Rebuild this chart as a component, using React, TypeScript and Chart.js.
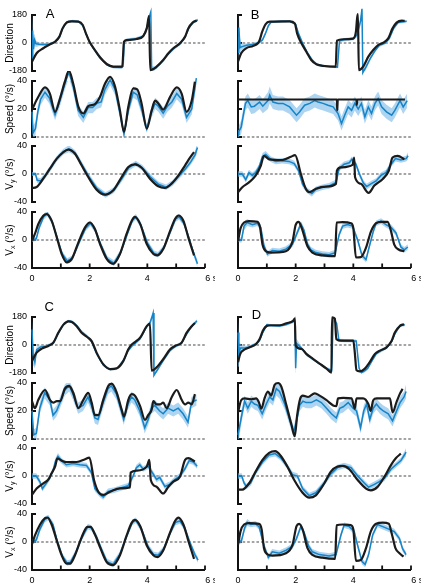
import React, { useEffect, useRef } from 'react';
import { Chart, registerables } from 'chart.js';

Chart.register(...registerables);

const FONT = '"Liberation Sans", Arial, Helvetica, sans-serif';
const BLACK = '#1b1b1b';
const BLUE = '#1684c6';
const BAND = 'rgba(118, 184, 232, 0.6)';

// axes / ticks
const TIME_TICKS = [0, 1, 2, 3, 4, 5, 6];
const TIME_LABELS = ['0', '', '2', '', '4', '', '     6 s'];
const DIR_TICKS = [-180, 0, 180];
const SPEED_TICKS = [0, 20, 40];
const VEL_TICKS = [-40, 0, 40];

// ---------- Panel A ----------  model: [t, value]; data: [t, mean, spread]
const A_DIR_MODEL = [[0,-120],[0.16,-66],[0.39,-34],[0.62,-9],[0.8,8],[0.95,41],[1.06,94],[1.2,131],[1.38,139],[1.61,137],[1.76,116],[1.87,62],[1.99,9],[2.18,-45],[2.36,-92],[2.59,-135],[2.82,-152],[3.13,-152],[3.19,8],[3.28,19],[3.63,26],[3.86,45],[3.98,94],[4.06,174],[4.1,-174],[4.32,-152],[4.55,-109],[4.73,-66],[4.9,-34],[5.13,-2],[5.31,41],[5.42,94],[5.57,131],[5.71,144]];
const A_DIR_DATA = [[0,-100,60],[0.02,80,110],[0.05,-40,80],[0.09,20,40],[0.14,-5,20],[0.25,-8,12],[0.4,-10,10],[0.6,-8,10],[0.8,6,10],[0.95,38,10],[1.06,92,10],[1.2,134,8],[1.4,142,8],[1.6,138,8],[1.76,114,8],[1.87,60,10],[2.0,5,10],[2.18,-48,10],[2.36,-96,10],[2.6,-140,8],[2.82,-156,8],[3.1,-158,8],[3.16,-150,10],[3.2,10,12],[3.3,20,10],[3.6,27,10],[3.85,42,10],[3.98,95,15],[4.06,165,20],[4.12,200,25],[4.15,-170,20],[4.3,-160,10],[4.55,-112,10],[4.73,-70,10],[4.9,-38,10],[5.13,-6,10],[5.31,38,10],[5.45,100,10],[5.6,135,10],[5.75,148,10]];
const A_SPD_MODEL = [[0,19.6],[0.22,28.7],[0.45,35.4],[0.62,31],[0.8,18],[0.97,27.5],[1.14,39.5],[1.28,47.4],[1.43,38],[1.61,21.6],[1.78,16.8],[1.95,22],[2.18,23.5],[2.36,28.7],[2.53,38],[2.71,43],[2.88,36],[3.05,19],[3.19,3.6],[3.34,21.6],[3.51,34.7],[3.65,34],[3.8,24],[3.98,6],[4.15,19],[4.27,26],[4.38,24],[4.55,19.6],[4.79,28.7],[5.02,35.4],[5.19,31],[5.36,18],[5.54,26],[5.65,39.5]];
const A_SPD_DATA = [[0,18,4],[0.04,3,5],[0.12,6,5],[0.2,18,4],[0.3,27,4],[0.45,32,4],[0.6,28,4],[0.8,16,4],[0.97,26,4],[1.14,38,4],[1.28,46,4],[1.43,36,4],[1.6,19,4],[1.78,14,4],[1.95,21,4],[2.1,21,4],[2.25,24,4],[2.4,25,4],[2.53,34,4],[2.71,41,4],[2.88,34,4],[3.05,17,4],[3.19,2,3],[3.34,19,4],[3.51,32,4],[3.65,30,4],[3.8,20,4],[3.98,6,3],[4.15,18,4],[4.27,24,4],[4.38,22,4],[4.55,17,4],[4.7,22,4],[4.85,25,4],[5.02,31,4],[5.19,27,4],[5.36,14,4],[5.54,20,4],[5.7,42,6]];
const A_VY_MODEL = [[0,-20],[0.16,-18.6],[0.39,-6.7],[0.62,7.6],[0.86,21.9],[1.09,31.4],[1.26,34.8],[1.49,29],[1.72,12.4],[1.95,-4.3],[2.24,-22.4],[2.53,-29.5],[2.82,-23.3],[3.11,-4.3],[3.34,10],[3.57,13.8],[3.8,9],[4.09,-6.7],[4.38,-17.6],[4.61,-20],[4.84,-13.8],[5.08,-1.9],[5.31,12.4],[5.48,23.3],[5.62,31.4]];
const A_VY_DATA = [[0,0,3],[0.12,0,3],[0.18,-9,4],[0.3,-10,4],[0.45,-3,4],[0.62,7,4],[0.86,22,4],[1.09,32,4],[1.28,36,5],[1.5,30,4],[1.75,12,4],[1.98,-4,4],[2.26,-21,4],[2.55,-30,4],[2.84,-23,4],[3.13,-6,4],[3.36,9,4],[3.6,15,4],[3.83,9,4],[4.1,-4,4],[4.4,-15,4],[4.65,-19,4],[4.87,-13,4],[5.1,-3,4],[5.33,8,4],[5.5,17,4],[5.65,27,5],[5.74,38,8]];
const A_VX_MODEL = [[0,-1],[0.1,8.6],[0.22,22.8],[0.39,34.8],[0.51,37],[0.68,27.6],[0.86,3.8],[1.03,-20],[1.2,-32],[1.38,-27],[1.61,-3.3],[1.84,18],[2.01,25],[2.18,15.7],[2.36,-5.7],[2.59,-27],[2.82,-34],[3.05,-20],[3.28,8.6],[3.46,27.6],[3.57,33],[3.75,23],[3.98,-5.7],[4.21,-20],[4.35,-22],[4.55,-13],[4.79,13],[4.96,30],[5.08,35],[5.25,27.6],[5.42,3.8],[5.62,-22]];
const A_VX_DATA = [[0,0,3],[0.15,2,3],[0.25,18,4],[0.4,33,4],[0.53,38,4],[0.7,26,4],[0.88,2,4],[1.05,-20,4],[1.22,-30,4],[1.4,-26,4],[1.63,-4,4],[1.86,17,4],[2.03,24,4],[2.2,14,4],[2.38,-6,4],[2.61,-27,4],[2.84,-33,4],[3.07,-18,4],[3.3,8,4],[3.48,28,4],[3.6,33,4],[3.77,22,4],[4.0,-4,4],[4.23,-19,4],[4.37,-21,4],[4.57,-11,4],[4.81,13,4],[4.98,30,4],[5.1,33,4],[5.27,24,4],[5.45,2,4],[5.6,-18,4],[5.74,-34,5]];

// ---------- Panel B ----------
const B_DIR_MODEL = [[0,-120],[0.11,-66],[0.28,-34],[0.52,-19],[0.69,-2],[0.75,19],[0.84,73],[0.96,122],[1.1,137],[1.79,139],[1.97,126],[2.05,62],[2.2,-2],[2.37,-56],[2.54,-109],[2.72,-137],[3.01,-148],[3.39,-152],[3.43,15],[3.65,24],[3.99,28],[4.09,73],[4.13,159],[4.16,185],[4.19,-174],[4.34,-152],[4.52,-88],[4.69,-45],[4.86,-13],[5.04,2],[5.21,30],[5.36,94],[5.5,131],[5.68,144],[5.78,142]];
const B_DIR_DATA = [[0,-60,100],[0.03,100,100],[0.07,-30,60],[0.12,-25,20],[0.3,-15,12],[0.5,-10,12],[0.7,0,10],[0.85,20,10],[0.95,60,10],[1.05,110,10],[1.15,135,8],[1.5,140,8],[1.8,140,8],[2.0,120,8],[2.1,60,10],[2.25,-5,10],[2.4,-60,10],[2.58,-112,10],[2.75,-140,8],[3.0,-150,8],[3.45,-155,8],[3.52,15,10],[3.7,22,10],[4.0,28,10],[4.12,50,15],[4.25,140,30],[4.3,220,40],[4.33,-190,30],[4.45,-150,15],[4.6,-95,12],[4.75,-50,10],[4.9,-15,10],[5.1,0,10],[5.25,30,10],[5.4,95,10],[5.55,132,8],[5.85,140,8]];
const B_SPD_MODEL = [[0,26.8],[3.43,26.8],[3.44,19],[3.46,26.8],[4.11,26.8],[4.12,23],[4.14,26.8],[5.79,26.8]];
const B_SPD_DATA = [[0,2,3],[0.03,4,4],[0.11,7,5],[0.17,14,5],[0.26,24,5],[0.34,26,5],[0.46,21.5,5],[0.57,22,5],[0.75,25,5],[0.86,22,5],[1.04,26,6],[1.1,30,6],[1.21,25,5],[1.39,24,5],[1.56,24,5],[1.79,21.5,5],[2.03,15.6,5],[2.14,18,5],[2.31,22.7,5],[2.49,24,5],[2.66,26,5],[2.78,25,5],[2.95,24,5],[3.12,22.7,5],[3.3,21.5,5],[3.47,16.8,5],[3.59,9.6,5],[3.7,15.6,5],[3.82,21.5,5],[3.94,19,5],[4.05,24,5],[4.17,20,5],[4.28,24,5],[4.4,14.4,5],[4.52,21.5,5],[4.63,16.8,5],[4.75,24,5],[4.86,27.5,5],[4.98,21.5,5],[5.15,18,5],[5.33,15.6,5],[5.44,19,5],[5.62,26,5],[5.73,21.5,5],[5.87,26,5]];
const B_VY_MODEL = [[0,-26],[0.15,-19],[0.38,-12],[0.61,-2.4],[0.79,11.8],[0.9,26],[1.08,21],[1.54,20],[1.83,24.5],[1.98,27],[2.18,0],[2.35,-21],[2.47,-26],[2.7,-21],[3.05,-18],[3.4,-14],[3.43,4.7],[3.57,9.4],[3.97,13],[4.03,23.5],[4.06,-4.7],[4.26,-14],[4.53,-27],[4.73,-16.5],[5.02,-7],[5.23,4.7],[5.36,23.5],[5.54,26],[5.77,21]];
const B_VY_DATA = [[0,0,4],[0.15,0,4],[0.27,-8,4],[0.38,2,4],[0.5,-2,4],[0.61,2,4],[0.73,10,4],[0.85,25,5],[0.96,28,5],[1.14,21,4],[1.31,18,4],[1.54,19,4],[1.77,18,4],[1.95,15,4],[2.1,5,4],[2.24,-15,4],[2.41,-24,4],[2.56,-28,4],[2.7,-22,4],[2.93,-19,4],[3.16,-17,4],[3.4,-12,4],[3.51,8,4],[3.68,14,4],[3.86,16,4],[3.95,21,4],[4.09,14,4],[4.21,0,4],[4.35,-13,4],[4.46,-18,4],[4.61,-14,4],[4.79,-10,4],[4.96,-2,4],[5.13,2,4],[5.31,14,4],[5.46,22,4],[5.65,20,4],[5.83,22,4],[5.9,26,5]];
const B_VX_MODEL = [[0,-2],[0.09,17],[0.21,25],[0.38,27],[0.67,26],[0.76,19],[0.85,-6.6],[0.96,-16],[1.14,-18],[1.66,-16],[1.89,-2],[2.0,21.6],[2.1,26],[2.21,17],[2.41,-9],[2.58,-18],[2.93,-22],[3.37,-23],[3.42,25],[3.63,25.4],[3.92,24],[4.0,17],[4.09,-25],[4.26,-24.5],[4.44,-11],[4.61,12],[4.79,24],[4.96,26],[5.19,26],[5.31,12],[5.42,-6.6],[5.57,-13.6],[5.77,-16]];
const B_VX_DATA = [[0,0,3],[0.12,0,4],[0.21,20,6],[0.32,25,5],[0.5,22,4],[0.67,24,4],[0.79,18,4],[0.9,-8,4],[1.02,-20,4],[1.19,-15,4],[1.43,-16,4],[1.66,-13,4],[1.89,-6,4],[2.03,8,4],[2.18,23,4],[2.29,14,4],[2.41,-6,4],[2.53,-14,4],[2.7,-18,4],[2.93,-20,4],[3.16,-21,4],[3.37,-18,4],[3.51,8,4],[3.63,20,4],[3.8,22,4],[3.97,20,4],[4.15,0,4],[4.3,-22,4],[4.44,-28,4],[4.55,-10,4],[4.69,12,4],[4.79,24,4],[4.96,27,4],[5.13,22,4],[5.31,18,4],[5.48,10,4],[5.65,-10,4],[5.77,-14,4],[5.89,-10,4]];

// ---------- Panel C ----------
const C_DIR_MODEL = [[0,-102],[0.16,-49],[0.34,-23],[0.57,-6],[0.74,15],[0.91,78],[1.09,131],[1.26,152],[1.38,148],[1.55,121],[1.72,78],[1.9,53],[2.07,25],[2.24,-49],[2.47,-123],[2.71,-155],[2.94,-150],[3.17,-102],[3.34,-28],[3.46,4],[3.57,19],[3.75,47],[3.98,121],[4.09,138],[4.15,-165],[4.32,-144],[4.55,-91],[4.79,-28],[4.96,-6],[5.19,15],[5.36,78],[5.54,121],[5.65,142]];
const C_DIR_DATA = [[0,100,60],[0.04,-60,70],[0.1,-110,40],[0.16,-30,20],[0.3,-12,10],[0.5,-8,10],[0.74,12,10],[0.91,75,10],[1.09,130,8],[1.26,155,8],[1.4,150,8],[1.55,125,8],[1.72,85,10],[1.9,58,10],[2.07,20,10],[2.24,-55,10],[2.47,-128,8],[2.71,-158,8],[2.94,-152,8],[3.17,-100,10],[3.34,-35,10],[3.46,-8,10],[3.6,15,10],[3.75,40,10],[3.98,120,10],[4.1,145,15],[4.2,205,25],[4.23,-195,25],[4.35,-160,12],[4.55,-100,10],[4.79,-35,10],[4.96,-10,10],[5.19,12,10],[5.36,70,10],[5.54,120,10],[5.72,155,10]];
const C_SPD_MODEL = [[0,27],[0.1,22],[0.22,28],[0.45,35],[0.62,28],[0.74,26],[0.86,27],[0.97,27],[1.14,36],[1.29,38],[1.43,33],[1.61,22],[1.78,28],[1.95,33],[2.07,26],[2.18,17],[2.3,17],[2.47,28],[2.65,38],[2.76,39.5],[2.94,33],[3.11,21],[3.19,16],[3.34,28],[3.46,32],[3.57,31],[3.75,23.5],[3.92,13.6],[4.03,17],[4.15,21],[4.21,27],[4.32,24.7],[4.44,24.7],[4.55,26],[4.67,22],[4.84,29.6],[5.02,35],[5.19,28],[5.31,24.7],[5.42,26],[5.54,24.7],[5.65,32]];
const C_SPD_DATA = [[0,20,4],[0.06,3,4],[0.15,4,4],[0.27,22,4],[0.44,33,4],[0.62,28,4],[0.73,17,4],[0.85,20,4],[0.97,26,4],[1.14,35,4],[1.29,38,4],[1.42,32,4],[1.6,22,4],[1.77,24,4],[1.94,30,4],[2.06,24,4],[2.18,15,4],[2.29,14,4],[2.47,26,4],[2.64,36,4],[2.75,38,4],[2.93,32,4],[3.1,20,4],[3.18,14,4],[3.33,25,4],[3.45,30,4],[3.56,28,4],[3.74,20,4],[3.91,8,4],[4.03,14,4],[4.14,22,4],[4.26,24,4],[4.43,20,4],[4.55,18,4],[4.72,22,4],[4.9,20,4],[5.07,22,4],[5.24,18,4],[5.41,12,4],[5.53,26,4],[5.71,28,4]];
const C_VY_MODEL = [[0,-27],[0.16,-18],[0.39,-10.5],[0.57,-4.8],[0.68,3.8],[0.8,13.4],[0.88,25],[1.03,22],[1.2,20],[1.55,20],[1.84,24],[1.99,26.3],[2.15,-5.7],[2.3,-22.5],[2.47,-27],[2.71,-22.5],[3.05,-17.7],[3.4,-16.3],[3.42,4.8],[3.63,7.7],[3.98,13.4],[4.07,23],[4.12,-5.7],[4.32,-15.3],[4.55,-25],[4.73,-15.3],[4.9,-8],[5.13,-1],[5.31,23],[5.42,25.4],[5.65,20.6]];
const C_VY_DATA = [[0,0,4],[0.15,0,4],[0.27,-8,4],[0.36,-18,4],[0.5,-10,4],[0.61,-3,4],[0.73,8,4],[0.82,22,4],[0.9,28,5],[1.02,22,4],[1.19,16,4],[1.42,18,4],[1.66,16,4],[1.89,15,4],[2.06,5,4],[2.18,-18,4],[2.35,-26,4],[2.47,-30,4],[2.64,-22,4],[2.87,-20,4],[3.16,-16,4],[3.33,-14,4],[3.51,0,4],[3.62,12,4],[3.74,16,4],[3.85,10,4],[4.03,14,4],[4.2,3,4],[4.32,-5,4],[4.43,-2,4],[4.61,-15,4],[4.78,-12,4],[4.95,-5,4],[5.13,0,4],[5.3,10,4],[5.45,22,4],[5.59,20,4],[5.73,14,4]];
const C_VX_MODEL = [[0,-3],[0.1,9],[0.28,25],[0.45,34],[0.54,35],[0.68,25],[0.86,2],[1.03,-19],[1.2,-31],[1.32,-31],[1.49,-19],[1.72,6.6],[1.92,21.6],[2.03,21.6],[2.18,11],[2.36,-7.5],[2.59,-28.7],[2.82,-33],[3.05,-19],[3.28,9],[3.46,27.7],[3.57,31.5],[3.75,23],[3.98,-5],[4.21,-19],[4.35,-21.6],[4.55,-12],[4.79,13.6],[4.96,30],[5.08,34.8],[5.25,25],[5.42,2],[5.62,-24]];
const C_VX_DATA = [[0,0,3],[0.15,3,4],[0.27,18,4],[0.44,32,4],[0.56,35,4],[0.73,25,4],[0.87,2,4],[1.05,-20,4],[1.22,-30,4],[1.33,-29,4],[1.52,-15,4],[1.75,8,4],[1.94,22,4],[2.06,20,4],[2.23,8,4],[2.41,-10,4],[2.6,-28,4],[2.81,-32,4],[3.04,-18,4],[3.3,10,4],[3.48,28,4],[3.6,31,4],[3.8,18,4],[4.03,-7,4],[4.22,-18,4],[4.37,-19,4],[4.57,-10,4],[4.8,14,4],[4.98,28,4],[5.13,30,4],[5.3,20,4],[5.47,0,4],[5.65,-18,4],[5.76,-26,4]];

// ---------- Panel D ----------
const D_DIR_MODEL = [[0,-110],[0.08,-57],[0.17,-36],[0.4,-15],[0.63,6],[0.75,38],[0.86,91],[1.0,123],[1.15,127],[1.44,127],[1.68,140],[1.91,155],[1.97,169],[2.0,-4],[2.2,-25],[2.37,-57],[2.6,-89],[2.84,-121],[3.07,-152],[3.24,-178],[3.26,178],[3.36,169],[3.41,38],[3.59,28],[4.0,28],[4.05,-47],[4.11,-163],[4.22,-170],[4.4,-152],[4.57,-110],[4.75,-57],[4.92,-36],[5.15,-15],[5.33,28],[5.44,80],[5.62,123],[5.76,133]];
const D_DIR_DATA = [[0,80,80],[0.03,-60,80],[0.08,-20,30],[0.2,-20,12],[0.4,-12,10],[0.63,8,10],[0.75,30,10],[0.86,80,10],[1.0,130,10],[1.15,125,8],[1.44,122,8],[1.68,132,8],[1.91,150,10],[1.97,168,20],[2.0,-150,60],[2.03,10,30],[2.2,-20,10],[2.37,-60,10],[2.6,-92,8],[2.84,-122,8],[3.07,-150,8],[3.25,-165,10],[3.3,165,15],[3.42,140,12],[3.5,30,10],[3.7,28,10],[4.1,26,10],[4.2,-150,12],[4.28,-178,10],[4.4,-165,10],[4.5,-150,10],[4.65,-100,10],[4.8,-55,10],[4.95,-38,10],[5.15,-18,10],[5.33,22,10],[5.45,75,10],[5.62,125,10],[5.78,130,10]];
const D_SPD_MODEL = [[0,19],[0.11,27.7],[0.23,29],[0.46,28.4],[0.63,29],[0.72,26.5],[0.81,21.6],[0.92,29],[1.04,33.8],[1.15,31],[1.27,38.7],[1.39,40],[1.5,37.5],[1.68,24],[1.85,10.5],[1.97,2],[2.05,16.7],[2.16,29],[2.25,31],[2.43,30],[2.66,32.6],[2.83,31],[3.07,27.7],[3.3,24],[3.41,23.5],[3.47,29],[3.65,29.4],[3.94,29],[4.05,21.6],[4.11,29],[4.34,29],[4.52,25],[4.6,20],[4.69,27.7],[4.81,29],[5.27,29],[5.36,19],[5.5,26.5],[5.62,32.6],[5.71,35.8]];
const D_SPD_DATA = [[0,3,3],[0.03,3,4],[0.11,15,5],[0.23,27,4],[0.34,22,4],[0.46,27,4],[0.57,25,4],[0.69,24,4],[0.84,18,4],[0.98,25,4],[1.1,30,4],[1.21,28,4],[1.33,36,5],[1.44,34,5],[1.62,25,4],[1.79,14,4],[1.93,5,4],[2.02,12,4],[2.14,24,4],[2.25,27,4],[2.37,26,4],[2.54,26,4],[2.72,28,4],[2.89,26,4],[3.07,22,4],[3.24,18,4],[3.41,15,4],[3.53,22,4],[3.65,23,4],[3.82,26,4],[3.99,22,4],[4.11,20,4],[4.25,8,4],[4.36,20,4],[4.46,25,4],[4.57,14,4],[4.69,22,4],[4.8,25,4],[4.92,22,4],[5.04,20,4],[5.21,18,4],[5.36,13,4],[5.5,20,4],[5.62,26,4],[5.76,30,4],[5.83,34,5]];
const D_VY_MODEL = [[0,-19.4],[0.15,-19.4],[0.38,-10.7],[0.61,6.3],[0.85,23],[1.08,33],[1.29,35.4],[1.48,29],[1.71,13.6],[1.95,-5.8],[2.24,-24],[2.47,-31],[2.7,-27.6],[2.99,-10.7],[3.22,6.3],[3.45,13.6],[3.63,14.5],[3.86,9.7],[4.15,-5.8],[4.44,-18],[4.61,-20.4],[4.84,-15.5],[5.08,-1],[5.31,16],[5.48,25.7],[5.65,32]];
const D_VY_DATA = [[0,0,4],[0.13,0,4],[0.21,-10,4],[0.29,-15,4],[0.44,-10,4],[0.61,5,4],[0.85,20,4],[1.08,30,4],[1.29,32,4],[1.48,26,4],[1.71,14,4],[1.89,2,4],[2.06,0,4],[2.24,-18,4],[2.47,-28,4],[2.7,-24,4],[2.99,-10,4],[3.22,3,4],[3.45,12,4],[3.68,15,4],[3.92,12,4],[4.15,0,4],[4.38,-10,4],[4.53,-16,4],[4.73,-12,4],[4.9,-8,4],[5.08,-3,4],[5.31,10,4],[5.48,16,4],[5.65,22,4],[5.77,30,5],[5.83,34,6]];
const D_VX_MODEL = [[0,-4],[0.09,15.5],[0.21,25],[0.38,27],[0.73,26],[0.82,18],[0.9,-8.7],[1.02,-17.5],[1.19,-19.4],[1.66,-16],[1.89,-4],[2.03,22.8],[2.12,26],[2.24,18],[2.41,-8.7],[2.58,-18.4],[2.93,-22.3],[3.37,-24],[3.42,24],[3.63,25],[3.92,24],[4.0,18],[4.09,-27],[4.26,-25.7],[4.44,-8.7],[4.61,15.5],[4.79,26],[5.02,27.6],[5.23,26],[5.34,10.7],[5.46,-8.7],[5.6,-16],[5.74,-20.8]];
const D_VX_DATA = [[0,0,3],[0.12,2,4],[0.23,20,5],[0.32,28,5],[0.44,25,4],[0.61,26,4],[0.73,22,4],[0.9,-5,4],[1.05,-22,4],[1.19,-14,4],[1.43,-16,4],[1.66,-12,4],[1.89,-6,4],[2.03,5,4],[2.18,22,4],[2.29,14,4],[2.45,-6,4],[2.58,-14,4],[2.82,-18,4],[3.16,-20,4],[3.4,-18,4],[3.57,10,4],[3.68,24,4],[3.86,22,4],[4.03,15,4],[4.15,-5,4],[4.3,-28,4],[4.41,-32,4],[4.53,-18,4],[4.67,10,4],[4.84,25,4],[5.02,22,4],[5.25,18,4],[5.42,15,4],[5.6,5,4],[5.71,-10,4],[5.83,-18,4]];

// ---------- layout ----------
const ROW_TICKS = [DIR_TICKS, SPEED_TICKS, VEL_TICKS, VEL_TICKS];
const ROW_OFFSETS = [0, 66, 131, 197];
const PLOT_W = 173;
const PLOT_H = 56;

const PANELS = [
  { letter: 'A', left: 32, top: 15, showY: true, lx: 45.7, ly: 7.3, series: [[A_DIR_MODEL, A_DIR_DATA], [A_SPD_MODEL, A_SPD_DATA], [A_VY_MODEL, A_VY_DATA], [A_VX_MODEL, A_VX_DATA]] },
  { letter: 'B', left: 238, top: 15, showY: false, lx: 250.7, ly: 7.6, series: [[B_DIR_MODEL, B_DIR_DATA], [B_SPD_MODEL, B_SPD_DATA], [B_VY_MODEL, B_VY_DATA], [B_VX_MODEL, B_VX_DATA]] },
  { letter: 'C', left: 32, top: 317, showY: true, lx: 44.4, ly: 300, series: [[C_DIR_MODEL, C_DIR_DATA], [C_SPD_MODEL, C_SPD_DATA], [C_VY_MODEL, C_VY_DATA], [C_VX_MODEL, C_VX_DATA]] },
  { letter: 'D', left: 238, top: 317, showY: false, lx: 251.7, ly: 308.3, series: [[D_DIR_MODEL, D_DIR_DATA], [D_SPD_MODEL, D_SPD_DATA], [D_VY_MODEL, D_VY_DATA], [D_VX_MODEL, D_VX_DATA]] },
];

function makeBracketPlugin(ticks: number[], bottom: boolean) {
  return {
    id: 'bracket',
    beforeDatasetsDraw(chart: any) {
      const { ctx } = chart;
      const xs = chart.scales.x;
      const ys = chart.scales.y;
      const xl = xs.getPixelForValue(0);
      const xr = xs.getPixelForValue(6);
      const yT = ys.getPixelForValue(ticks[ticks.length - 1]);
      const yB = ys.getPixelForValue(ticks[0]);
      const y0 = ys.getPixelForValue(0);
      ctx.save();
      ctx.strokeStyle = '#4a4a4a';
      ctx.lineWidth = 1.1;
      ctx.setLineDash([2.6, 2]);
      ctx.beginPath();
      ctx.moveTo(xl, y0);
      ctx.lineTo(xr, y0);
      ctx.stroke();
      ctx.setLineDash([]);
      ctx.strokeStyle = '#111';
      ctx.lineWidth = 2;
      ctx.beginPath();
      ctx.moveTo(xl, yT - 1);
      ctx.lineTo(xl, yB + 1);
      ticks.forEach((v) => {
        const p = ys.getPixelForValue(v);
        ctx.moveTo(xl, p);
        ctx.lineTo(xl + 4, p);
      });
      ctx.stroke();
      if (bottom) {
        ctx.lineWidth = 1.8;
        ctx.beginPath();
        ctx.moveTo(xl - 1, yB);
        ctx.lineTo(xr, yB);
        TIME_TICKS.forEach((t) => {
          const p = xs.getPixelForValue(t);
          ctx.moveTo(p, yB);
          ctx.lineTo(p, yB - 4.5);
        });
        ctx.stroke();
      }
      ctx.restore();
    },
  };
}

function Sub(props: any) {
  const { left, top, showY, bottom, ticks, model, data } = props;
  const ref = useRef<HTMLCanvasElement>(null);
  const yW = 32;
  const padL = showY ? 0 : 10;
  const cLeft = showY ? left - yW : left - padL;
  const cTop = top - 10;
  const xH = 26;
  const cW = (left - cLeft) + PLOT_W + 10;
  const cH = 10 + PLOT_H + (bottom ? xH : 10);

  useEffect(() => {
    const canvas = ref.current;
    if (!canvas) return;
    const pts = (arr: number[][]) => arr.map((p) => ({ x: p[0], y: p[1] }));
    const chart = new Chart(canvas, {
      type: 'line',
      data: {
        datasets: [
          { label: 'model', data: pts(model), borderColor: BLACK, borderWidth: 2.2, pointRadius: 0, cubicInterpolationMode: 'monotone', fill: false, order: 0, clip: false },
          { label: 'data', data: pts(data), borderColor: BLUE, borderWidth: 1.5, pointRadius: 0, tension: 0, fill: false, order: 1, clip: false },
          { label: 'upper', data: data.map((p: number[]) => ({ x: p[0], y: p[1] + p[2] })), borderColor: 'transparent', borderWidth: 0, pointRadius: 0, tension: 0, backgroundColor: BAND, fill: '+1', order: 2, clip: false },
          { label: 'lower', data: data.map((p: number[]) => ({ x: p[0], y: p[1] - p[2] })), borderColor: 'transparent', borderWidth: 0, pointRadius: 0, tension: 0, fill: false, order: 3, clip: false },
        ],
      } as any,
      options: {
        responsive: false,
        animation: false,
        devicePixelRatio: 1,
        events: [],
        layout: { padding: { left: padL, right: 10, top: 10, bottom: bottom ? 0 : 10 } },
        plugins: { legend: { display: false }, tooltip: { enabled: false } },
        scales: {
          x: {
            type: 'linear',
            min: 0,
            max: 6,
            display: bottom,
            grid: { display: false, drawTicks: false },
            border: { display: false },
            afterBuildTicks: (s: any) => { s.ticks = TIME_TICKS.map((v) => ({ value: v })); },
            afterFit: (s: any) => {
              if (!bottom) return;
              s.height = xH; s.paddingLeft = 0; s.paddingRight = 0; s.paddingTop = 0; s.paddingBottom = 0;
            },
            ticks: {
              autoSkip: false,
              maxRotation: 0,
              minRotation: 0,
              padding: 5,
              color: '#000',
              font: { family: FONT, size: 9 },
              callback: (v: any) => TIME_LABELS[TIME_TICKS.indexOf(Number(v))],
            },
          },
          y: {
            type: 'linear',
            min: ticks[0],
            max: ticks[ticks.length - 1],
            display: showY,
            position: 'left',
            grid: { display: false, drawTicks: false },
            border: { display: false },
            afterBuildTicks: (s: any) => { s.ticks = ticks.map((v: number) => ({ value: v })); },
            afterFit: (s: any) => {
              if (!showY) return;
              s.width = yW; s.paddingLeft = 0; s.paddingRight = 0; s.paddingTop = 0; s.paddingBottom = 0;
            },
            ticks: {
              padding: 5,
              color: '#000',
              font: { family: FONT, size: 9 },
              callback: (v: any) => String(v),
            },
          },
        },
      } as any,
      plugins: [makeBracketPlugin(ticks, bottom)],
    });
    return () => chart.destroy();
  }, []);

  return (
    <canvas
      ref={ref}
      width={cW}
      height={cH}
      style={{ position: 'absolute', left: cLeft, top: cTop, width: cW, height: cH }}
    />
  );
}

function VTitle({ cx, cy, children }: any) {
  return (
    <div
      style={{
        position: 'absolute',
        left: cx,
        top: cy,
        transform: 'translate(-50%, -50%) rotate(-90deg)',
        whiteSpace: 'nowrap',
        fontFamily: FONT,
        fontSize: 10,
        lineHeight: 1,
        color: '#000',
      }}
    >
      {children}
    </div>
  );
}

const subStyle = { fontSize: 7, verticalAlign: '-2px', lineHeight: 1 };

export default function App() {
  return (
    <div style={{ position: 'absolute', left: 0, top: 0, width: 427, height: 587, background: '#fff', overflow: 'hidden' }}>
      {PANELS.map((p) => (
        <React.Fragment key={p.letter}>
          {p.series.map((s, r) => (
            <Sub
              key={p.letter + r}
              left={p.left}
              top={p.top + ROW_OFFSETS[r]}
              showY={p.showY}
              bottom={r === 3}
              ticks={ROW_TICKS[r]}
              model={s[0]}
              data={s[1]}
            />
          ))}
          <div style={{ position: 'absolute', left: p.lx, top: p.ly, fontFamily: FONT, fontSize: 13, lineHeight: 1, color: '#000' }}>{p.letter}</div>
          {p.showY && (
            <>
              <VTitle cx={10} cy={p.top + ROW_OFFSETS[0] + PLOT_H / 2}>Direction</VTitle>
              <VTitle cx={10} cy={p.top + ROW_OFFSETS[1] + PLOT_H / 2}>Speed (°/s)</VTitle>
              <VTitle cx={10} cy={p.top + ROW_OFFSETS[2] + PLOT_H / 2}>V<sub style={subStyle}>y</sub> (°/s)</VTitle>
              <VTitle cx={10} cy={p.top + ROW_OFFSETS[3] + PLOT_H / 2}>V<sub style={subStyle}>x</sub> (°/s)</VTitle>
            </>
          )}
        </React.Fragment>
      ))}
    </div>
  );
}
